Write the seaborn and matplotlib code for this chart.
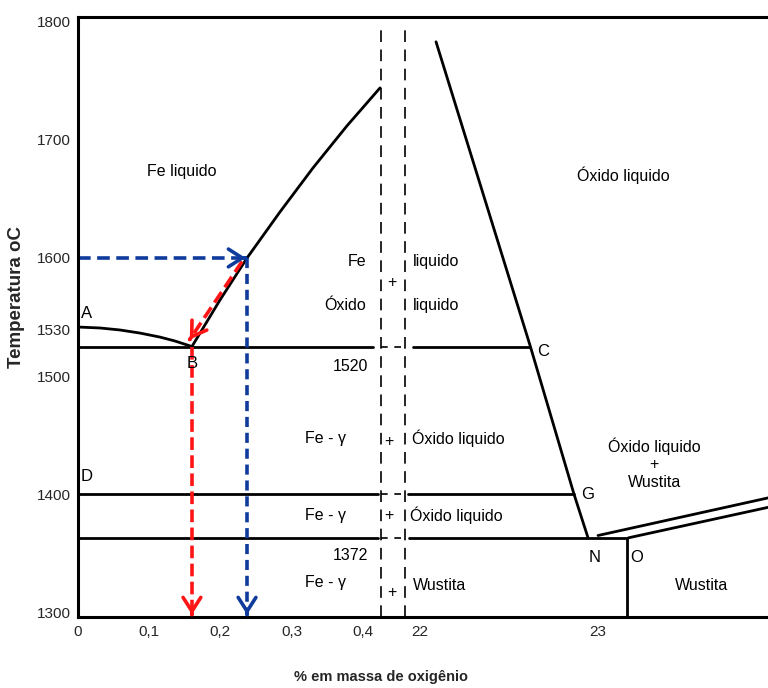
import numpy as np
import pandas as pd
import matplotlib
matplotlib.use("Agg")
import matplotlib.pyplot as plt
import seaborn as sns
from matplotlib import font_manager

# broken x axis: 0-0.45 %O on the left part, 22-24 %O on the right part
BRK_U0 = 0.4803     # axis position of 22 %O
BRK_SCALE = 0.25    # axis units per 1 %O on the oxide side


def pos(w):
    w = np.asarray(w, dtype=float)
    return np.where(w < 5, w, BRK_U0 + (w - 22) * BRK_SCALE)


# Fe-rich side (% O, degC)
liq_fe_x = [0.160, 0.1994, 0.2374, 0.2837, 0.3301, 0.3778, 0.4242]
liq_fe_t = [1525, 1564.4, 1600, 1639, 1676.3, 1711.9, 1744]
curve_ab_x = [0.0, 0.031, 0.059, 0.087, 0.115, 0.136, 0.160]
curve_ab_t = [1541.5, 1540.7, 1539, 1536.4, 1533, 1529.7, 1525]

# oxide side
liq_ox_x = [22.09, 22.62, 22.865, 22.944]
liq_ox_t = [1783, 1525, 1400, 1363]
wus_hi_x = [23.0, 23.96]
wus_hi_t = [1365, 1397]
wus_lo_x = [23.17, 23.96]
wus_lo_t = [1363, 1389]
o_x = [23.16, 23.16]
o_t = [1363, 1296]

# isotherms B-C, D-G and 1372
iso_t = [1525, 1400, 1363]
iso_left_end = [0.414, 0.421, 0.421]
iso_right_start = [21.96, 21.93, 21.94]
iso_right_end = [22.62, 22.865, 23.16]

# axis break marks (axis units)
break_u = [0.4256, 0.4597]

# worked example
t_work = 1600
x_work = 0.2374
x_eut = 0.160
t_eut = 1525

xtick_w = [0, 0.1, 0.2, 0.3, 0.4, 22, 23]
xtick_lab = ["0", "0,1", "0,2", "0,3", "0,4", "22", "23"]
ytick_t = [1300, 1400, 1500, 1539, 1600, 1700, 1800]
ytick_lab = ["1300", "1400", "1500", "1530", "1600", "1700", "1800"]

sns.set_theme(style="white")
names = {f.name for f in font_manager.fontManager.ttflist}
narrow = "Liberation Sans Narrow" if "Liberation Sans Narrow" in names else "Liberation Sans"
plt.rcParams["font.family"] = [narrow, "DejaVu Sans"]

# solid phase boundaries as one long table
segs = [
    (liq_fe_x, liq_fe_t),
    (curve_ab_x, curve_ab_t),
    (pos(liq_ox_x), liq_ox_t),
    (pos(wus_hi_x), wus_hi_t),
    (pos(wus_lo_x), wus_lo_t),
    (pos(o_x), o_t),
]
for t, le, rs, re in zip(iso_t, iso_left_end, iso_right_start, iso_right_end):
    segs.append(([0, le], [t, t]))
    segs.append((pos([rs, re]), [t, t]))
rows = []
for i, (xs, ts) in enumerate(segs):
    for x, t in zip(xs, ts):
        rows.append({"seg": i, "x": float(x), "T": t})
df = pd.DataFrame(rows)

fig = plt.figure(figsize=(7.68, 6.88), dpi=100)
ax = fig.add_axes([78 / 768, 71 / 688, 690 / 768, 600 / 688])

sns.lineplot(data=df, x="x", y="T", units="seg", estimator=None, sort=False,
             color="black", lw=2.0, ax=ax, legend=False)
for line in ax.get_lines():
    line.set_solid_joinstyle("round")

# axis-break dashed verticals and little dashed joins
for u in break_u:
    ax.plot([u, u], [1296, 1795], color="black", lw=1.2, dashes=(7, 4.5))
for t in iso_t:
    ax.plot(break_u, [t, t], color="black", lw=1.2, dashes=(4, 4))

blue = "#0f3c9c"
red = "#ff1515"


def dashed_arrow(x0, y0, x1, y1, color, dash):
    ax.plot([x0, x1], [y0, y1], color=color, lw=2.6, dashes=dash,
            solid_capstyle="butt", dash_capstyle="butt")
    ax.annotate("", xy=(x1, y1), xytext=(x1 - (x1 - x0) * 0.001, y1 - (y1 - y0) * 0.001),
                arrowprops=dict(arrowstyle="->,head_length=0.5,head_width=0.32",
                                color=color, lw=2.6, mutation_scale=20,
                                shrinkA=0, shrinkB=0))


dashed_arrow(0, t_work, x_work - 0.002, t_work, blue, (3.5, 1.8))
dashed_arrow(x_work, t_work, x_work, 1298, blue, (2.8, 1.6))
dashed_arrow(x_work - 0.007, t_work - 3, x_eut - 0.003, t_eut + 6, red, (3.5, 1.6))
dashed_arrow(x_eut, t_eut, x_eut, 1298, red, (3.5, 1.5))

fs = 11.5
region_labels = [
    ("Fe liquido", 0.146, 1673, "center"),
    ("Fe", 0.405, 1597, "right"),
    ("+", 0.4406, 1579, "center"),
    ("Óxido", 0.405, 1560, "right"),
    ("liquido", 0.470, 1597, "left"),
    ("liquido", 0.470, 1560, "left"),
    ("Fe - γ", 0.347, 1447, "center"),
    ("+", 0.4368, 1445, "center"),
    ("Óxido liquido", 0.4687, 1447, "left"),
    ("Fe - γ", 0.347, 1382, "center"),
    ("+", 0.4368, 1382, "center"),
    ("Óxido liquido", 0.466, 1382, "left"),
    ("Fe - γ", 0.347, 1325, "center"),
    ("+", 0.441, 1317, "center"),
    ("Wustita", 0.470, 1323, "left"),
    ("Óxido liquido", 0.766, 1670, "center"),
    ("Óxido liquido\n+\nWustita", 0.809, 1426, "center"),
    ("Wustita", 0.876, 1323, "center"),
    ("1520", 0.407, 1508, "right"),
    ("1372", 0.407, 1348, "right"),
]
for txt, x, t, ha in region_labels:
    ax.text(x, t, txt, ha=ha, va="center", fontsize=fs, color="black",
            linespacing=1.2)

points = [("A", 0.0126, 1553), ("B", 0.1597, 1511), ("C", 0.6536, 1521),
          ("D", 0.0122, 1415), ("G", 0.7153, 1400), ("N", 0.7252, 1346),
          ("O", 0.7846, 1346)]
for txt, x, t in points:
    ax.text(x, t, txt, ha="center", va="center", fontsize=12, color="black")

ax.set_xlim(0, 0.969)
ax.set_ylim(1296, 1804)
ax.set_xticks(pos(xtick_w))
ax.set_xticklabels(xtick_lab, fontsize=11)
ax.set_yticks(ytick_t)
ax.set_yticklabels(ytick_lab, fontsize=11)
ax.tick_params(axis="x", direction="in", length=9, width=1.5, pad=6, color="black")
ax.tick_params(axis="y", direction="in", length=5, width=1.5, pad=5, color="black")
ax.xaxis.get_major_ticks()[0].tick1line.set_visible(False)

for side in ["left", "top", "bottom"]:
    ax.spines[side].set_color("black")
    ax.spines[side].set_linewidth(2.2)
ax.spines["right"].set_visible(False)

ax.set_xlabel("")
ax.set_ylabel("")
fig.text(381 / 768, 1 - 677 / 688, "% em massa de oxigênio", ha="center", va="center",
         fontsize=10.5, fontweight="bold", family="Liberation Sans")
fig.text(17 / 768, 1 - 297 / 688, "Temperatura oC", ha="center", va="center",
         rotation=90, fontsize=13.5, fontweight="bold", family="Liberation Sans")

fig.savefig("out.png", dpi=100)
